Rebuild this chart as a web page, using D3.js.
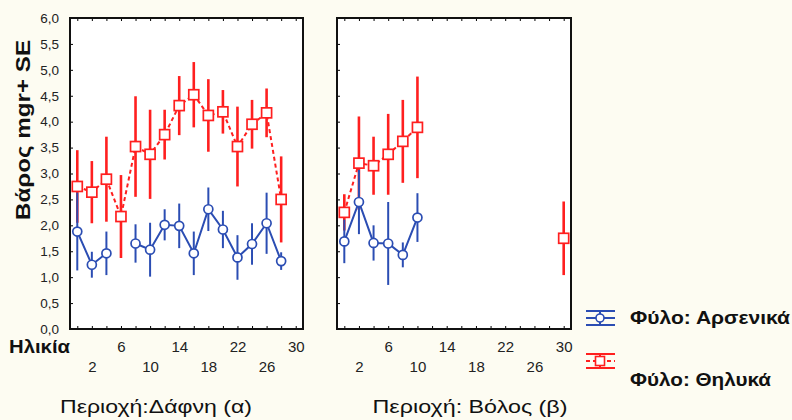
<!DOCTYPE html>
<html>
<head>
<meta charset="utf-8">
<script src="https://cdn.jsdelivr.net/npm/d3@7"></script>
<style>
  body { margin: 0; background: #fdfcf2; }
  svg { display: block; font-family: "Liberation Sans", Arial, sans-serif; }
</style>
</head>
<body>
<div id="chart"></div>
<script>
// ages on the x axis
const ages = [0, 2, 4, 6, 8, 10, 12, 14, 16, 18, 20, 22, 24, 26, 28, 30];

// Δάφνη (α)
const daphneFemale   = [2.75, 2.64, 2.89, 2.17, 3.52, 3.37, 3.75, 4.31, 4.52, 4.12, 4.19, 3.52, 3.95, 4.17, 2.50, null];
const daphneFemaleSE = [0.70, 0.60, 0.82, 0.80, 0.97, 0.86, 0.48, 0.57, 0.63, 0.70, 0.42, 0.77, 0.47, 0.47, 0.83, null];
const daphneMale     = [1.88, 1.24, 1.46, null, 1.65, 1.53, 2.01, 1.99, 1.46, 2.31, 1.92, 1.38, 1.64, 2.04, 1.31, null];
const daphneMaleSE   = [0.75, 0.25, 0.42, null, 0.37, 0.52, 0.30, 0.43, 0.42, 0.42, 0.36, 0.43, 0.40, 0.59, 0.17, null];

// Βόλος (β)
const volosFemale    = [2.25, 3.20, 3.15, 3.37, 3.62, 3.89, null, null, null, null, null, null, null, null, null, 1.75];
const volosFemaleSE  = [0.35, 0.90, 0.56, 0.78, 0.80, 0.98, null, null, null, null, null, null, null, null, null, 0.71];
const volosMale      = [1.69, 2.45, 1.66, 1.65, 1.43, 2.15, null, null, null, null, null, null, null, null, null, null];
const volosMaleSE    = [0.42, 0.62, 0.34, 0.80, 0.24, 0.47, null, null, null, null, null, null, null, null, null, null];

const yTicks = d3.range(0, 6.01, 0.5);
const xTickMarks = d3.range(0, 31, 2);
const xLabelsRow1 = [6, 14, 22, 30];
const xLabelsRow2 = [2, 10, 18, 26];

const panelTitles = ["Περιοχή:Δάφνη (α)", "Περιοχή: Βόλος (β)"];
const legendLabels = ["Φύλο: Αρσενικά", "Φύλο: Θηλυκά"];

const blue = "#2b4db3";
const red = "#ff1f1f";

const width = 792, height = 420;
const svg = d3.select("#chart").append("svg")
    .attr("width", width)
    .attr("height", height);

const y = d3.scaleLinear().domain([0, 6]).range([329, 18]);
const fmt = v => d3.format(".1f")(v).replace(".", ",");

const panels = [
    {left: 70, right: 303, title: panelTitles[0], female: daphneFemale, femaleSE: daphneFemaleSE, male: daphneMale, maleSE: daphneMaleSE, titleX: 156, titleW: 192},
    {left: 337, right: 571, title: panelTitles[1], female: volosFemale, femaleSE: volosFemaleSE, male: volosMale, maleSE: volosMaleSE, titleX: 470, titleW: 195}
];

function rows(vals, se) {
    return ages.map((a, i) => ({age: a, v: vals[i], se: se[i]}));
}

panels.forEach(function(p, pi) {
    const x = d3.scaleLinear().domain([-1, 31]).range([p.left, p.right]);
    const g = svg.append("g");

    // plot area
    g.append("rect")
        .attr("x", p.left).attr("y", y(6))
        .attr("width", p.right - p.left).attr("height", y(0) - y(6))
        .attr("fill", "#fff");

    // inward tick marks
    g.append("g").attr("transform", "translate(0," + y(0) + ")")
        .call(d3.axisTop(x).tickValues(xTickMarks).tickSize(3).tickFormat(""))
        .call(s => s.select(".domain").remove());
    g.append("g").attr("transform", "translate(0," + y(6) + ")")
        .call(d3.axisBottom(x).tickValues(xTickMarks).tickSize(3).tickFormat(""))
        .call(s => s.select(".domain").remove());
    g.append("g").attr("transform", "translate(" + p.left + ",0)")
        .call(d3.axisRight(y).tickValues(yTicks).tickSize(3).tickFormat(""))
        .call(s => s.select(".domain").remove());

    // x labels in two rows
    [[xLabelsRow1, 352], [xLabelsRow2, 372]].forEach(function(r) {
        g.append("g").attr("transform", "translate(0," + r[1] + ")")
            .call(d3.axisBottom(x).tickValues(r[0]).tickSize(0).tickPadding(0))
            .call(s => s.select(".domain").remove())
            .selectAll("text").attr("font-size", 15).attr("fill", "#222").attr("dy", 0);
    });

    // y labels only on first panel
    if (pi === 0) {
        g.append("g").attr("transform", "translate(" + (p.left - 11) + ",0)")
            .call(d3.axisLeft(y).tickValues(yTicks).tickSize(0).tickPadding(0).tickFormat(fmt))
            .call(s => s.select(".domain").remove())
            .selectAll("text").attr("font-size", 13.5).attr("fill", "#222");
    }

    const series = [
        {data: rows(p.female, p.femaleSE), color: red, dash: "4,3", ew: 2.6, marker: "square"},
        {data: rows(p.male, p.maleSE), color: blue, dash: null, ew: 2, marker: "circle"}
    ];

    series.forEach(function(s) {
        const pts = s.data.filter(d => d.v != null);
        const line = d3.line()
            .defined(d => d.v != null)
            .x(d => x(d.age)).y(d => y(d.v));
        g.append("path")
            .datum(s.data)
            .attr("d", line)
            .attr("fill", "none")
            .attr("stroke", s.color)
            .attr("stroke-width", 2)
            .attr("stroke-dasharray", s.dash);

        g.selectAll(null).data(pts).enter().append("line")
            .attr("x1", d => x(d.age)).attr("x2", d => x(d.age))
            .attr("y1", d => y(d.v - d.se)).attr("y2", d => y(d.v + d.se))
            .attr("stroke", s.color)
            .attr("stroke-width", s.ew);

        if (s.marker === "square") {
            g.selectAll(null).data(pts).enter().append("rect")
                .attr("x", d => x(d.age) - 5).attr("y", d => y(d.v) - 5)
                .attr("width", 10).attr("height", 10)
                .attr("fill", "#fff").attr("stroke", s.color).attr("stroke-width", 1.7);
        } else {
            g.selectAll(null).data(pts).enter().append("circle")
                .attr("cx", d => x(d.age)).attr("cy", d => y(d.v)).attr("r", 4.5)
                .attr("fill", "#fff").attr("stroke", s.color).attr("stroke-width", 1.7);
        }
    });

    // frame
    g.append("rect")
        .attr("x", p.left).attr("y", y(6))
        .attr("width", p.right - p.left).attr("height", y(0) - y(6))
        .attr("fill", "none").attr("stroke", "#111").attr("stroke-width", 2);

    g.append("text")
        .attr("x", p.titleX).attr("y", 413)
        .attr("text-anchor", "middle")
        .attr("font-size", 19).attr("fill", "#111")
        .attr("textLength", p.titleW).attr("lengthAdjust", "spacingAndGlyphs")
        .text(p.title);
});

// axis titles
svg.append("text")
    .attr("transform", "translate(30,130) rotate(-90)")
    .attr("text-anchor", "middle")
    .attr("font-size", 21).attr("font-weight", "bold").attr("fill", "#111")
    .attr("textLength", 180).attr("lengthAdjust", "spacingAndGlyphs")
    .text("Βάρος mgr+ SE");

svg.append("text")
    .attr("x", 9).attr("y", 353)
    .attr("font-size", 18).attr("font-weight", "bold").attr("fill", "#111")
    .attr("textLength", 61).attr("lengthAdjust", "spacingAndGlyphs")
    .text("Ηλικία");

// legend
const legend = [
    {label: legendLabels[0], color: blue, marker: "circle", sy: 318, ty: 324, tw: 160},
    {label: legendLabels[1], color: red, marker: "square", sy: 361, ty: 386, tw: 141}
];
legend.forEach(function(l) {
    const lg = svg.append("g");
    const x0 = 586, x1 = 615, cx = 600;
    [-7, 0, 7].forEach(function(dy) {
        lg.append("line")
            .attr("x1", x0).attr("x2", x1)
            .attr("y1", l.sy + dy).attr("y2", l.sy + dy)
            .attr("stroke", l.color).attr("stroke-width", 2)
            .attr("stroke-dasharray", l.marker === "square" && dy === 0 ? "4,3" : null);
    });
    lg.append("line")
        .attr("x1", cx).attr("x2", cx).attr("y1", l.sy - 7).attr("y2", l.sy + 7)
        .attr("stroke", l.color).attr("stroke-width", 2);
    if (l.marker === "circle") {
        lg.append("circle").attr("cx", cx).attr("cy", l.sy).attr("r", 4)
            .attr("fill", "#fff").attr("stroke", l.color).attr("stroke-width", 1.6);
    } else {
        lg.append("rect").attr("x", cx - 4.5).attr("y", l.sy - 4.5).attr("width", 9).attr("height", 9)
            .attr("fill", "#fff").attr("stroke", l.color).attr("stroke-width", 1.6);
    }
    lg.append("text")
        .attr("x", 630).attr("y", l.ty)
        .attr("font-size", 18).attr("font-weight", "bold").attr("fill", "#111")
        .attr("textLength", l.tw).attr("lengthAdjust", "spacingAndGlyphs")
        .text(l.label);
});
</script>
</body>
</html>
